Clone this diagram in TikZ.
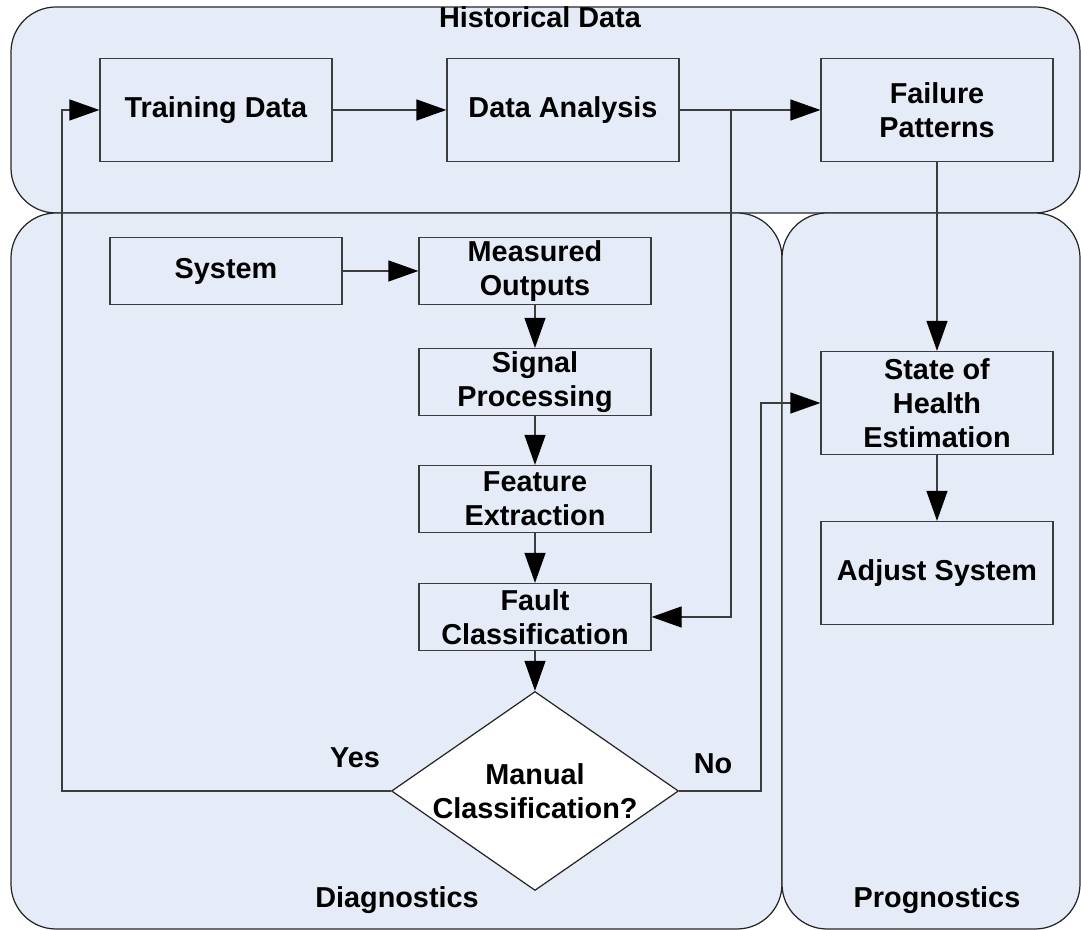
\documentclass[tikz,border=0pt]{standalone}
\usepackage{fontspec}
\setmainfont{Liberation Sans}
\usepackage{xcolor}
\usetikzlibrary{arrows.meta}
\usetikzlibrary{shapes.geometric}
\definecolor{regionblue}{RGB}{230,236,247}
\definecolor{edgegray}{RGB}{60,60,60}
\tikzset{region/.style={draw=black!85, fill=regionblue, rounded corners=4.5mm, line width=0.35pt},
 stepbox/.style={draw=edgegray, fill=regionblue, line width=0.35pt, align=center, inner sep=0pt,
   minimum width=23.2mm, font=\fontsize{8.2}{9.7}\selectfont\bfseries},
 tallbox/.style={stepbox, minimum height=10.3mm},
 flatbox/.style={stepbox, minimum height=6.7mm},
 decision/.style={shape=diamond, draw=black!85, fill=white, line width=0.35pt, align=center,
   inner sep=0pt, aspect=1.44, minimum width=28.7mm, minimum height=19.9mm,
   font=\fontsize{8.2}{9.7}\selectfont\bfseries},
 tag/.style={font=\fontsize{8.2}{9.7}\selectfont\bfseries, inner sep=0pt},
 conn/.style={draw=edgegray, line width=0.35pt, -{Triangle[length=3mm,width=2.1mm,color=black]}},
 }

\begin{document}
\begin{tikzpicture}[x=0.1mm,y=-0.1mm]
        \useasboundingbox (0,0) rectangle (1081,930);
        % swim lanes
        \draw[region] (11,7) rectangle (1080,213);
        \draw[region] (11,213) rectangle (782,929);
        \draw[region] (782,213) rectangle (1080,929);
        \node[tag] (histlbl) at (540,17) {Historical Data};
        \node[tag] (diaglbl) at (397,900) {Diagnostics};
        \node[tag] (proglbl) at (937,900) {Prognostics};

        % historical data
        \node[tallbox] (train) at (216,110) {Training Data};
        \node[tallbox] (analysis) at (563,110) {Data Analysis};
        \node[tallbox] (patterns) at (937,110) {Failure\\Patterns};

        % diagnostics
        \node[flatbox] (system) at (226,271) {System};
        \node[flatbox] (measured) at (535,271) {Measured\\Outputs};
        \node[flatbox] (signal) at (535,382) {Signal\\Processing};
        \node[flatbox] (feature) at (535,499) {Feature\\Extraction};
        \node[flatbox] (fault) at (535,617) {Fault\\Classification};
        \node[decision] (ask) at (535,791) {Manual\\Classification?};
        \node[tag] (yes) at (355,758) {Yes};
        \node[tag] (no) at (713,764) {No};

        % prognostics
        \node[tallbox] (health) at (937,403) {State of\\Health\\Estimation};
        \node[tallbox] (adjust) at (937,573) {Adjust System};

        \coordinate (split) at (731,110);
        \coordinate (loopL) at (62,110);
        \coordinate (loopR) at (761,403);

        \draw[conn] (train) -- (analysis);
        \draw[conn] (analysis) -- (patterns);
        \draw[conn] (split) |- (fault.east);
        \draw[conn] (patterns) -- (health);
        \draw[conn] (health) -- (adjust);
        \draw[conn] (system) -- (measured);
        \draw[conn] (measured) -- (signal);
        \draw[conn] (signal) -- (feature);
        \draw[conn] (feature) -- (fault);
        \draw[conn] (fault) -- (ask);
        \draw[conn] (ask.west) -| (loopL) -- (train.west);
        \draw[conn] (ask.east) -| (loopR) -- (health.west);
    \end{tikzpicture}
\end{document}
